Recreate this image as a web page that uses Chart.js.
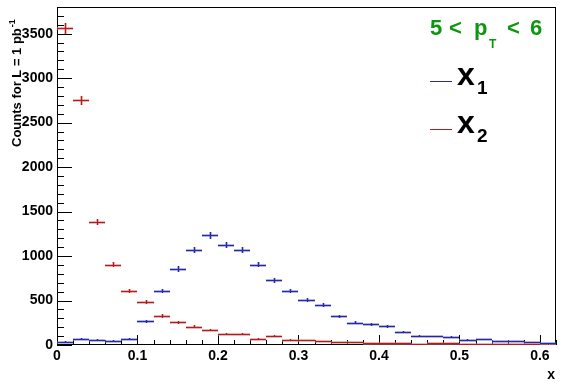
<!DOCTYPE html>
<html><head><meta charset="utf-8">
<script src="https://cdn.jsdelivr.net/npm/chart.js@4.4.0/dist/chart.umd.min.js"></script>
<style>html,body{margin:0;padding:0;background:#fff;}canvas{display:block;}</style>
</head><body>
<canvas id="c" width="567" height="384"></canvas>
<script>
// ---- data ----
const binWidth = 0.02;
const binCenters = [0.01,0.03,0.05,0.07,0.09,0.11,0.13,0.15,0.17,0.19,0.21,0.23,0.25,0.27,0.29,0.31,0.33,0.35,0.37,0.39,0.41,0.43,0.45,0.47,0.49,0.51,0.53,0.55,0.57,0.59,0.61];
const x1Values = [38,66,55,48,66,268,604,855,1065,1232,1126,1072,902,729,604,503,448,323,252,234,210,150,104,96,88,55,65,43,42,32,18];
const x1Errors = [6,8,7,7,8,16,25,29,33,35,34,33,30,27,25,22,21,18,16,15,14,12,10,10,9,7,8,7,6,6,4];
const x2Values = [3560,2750,1385,905,605,480,325,255,206,165,124,120,73,105,56,51,43,30,30,18,20,18,11,22,22,11,11,9,8,7,5];
const x2Errors = [60,52,37,30,25,22,18,16,14,13,11,11,9,10,7,7,7,5,5,4,4,4,3,5,5,3,3,3,3,3,2];
const xTickValues = [0,0.1,0.2,0.3,0.4,0.5,0.6];
const xTickLabels = ['0','0.1','0.2','0.3','0.4','0.5','0.6'];
const yTickValues = [0,500,1000,1500,2000,2500,3000,3500];
const yTickLabels = ['0','500','1000','1500','2000','2500','3000','3500'];
const seriesNames = ['x','x'];
const seriesSubs = ['1','2'];

const FONT = '"Liberation Sans", Arial, Helvetica, sans-serif';

function pts(vals, errs){ return binCenters.map((c,i)=>({x:c, y:vals[i], err:errs[i]})); }

const framePlugin = {
  id:'frame',
  beforeDatasetsDraw(chart){
    const ctx = chart.ctx, a = chart.chartArea, xs = chart.scales.x, ys = chart.scales.y;
    ctx.save();
    ctx.strokeStyle = '#000'; ctx.lineWidth = 1;
    ctx.strokeRect(Math.round(a.left)+0.5, Math.round(a.top)+0.5, Math.round(a.right-a.left)-1, Math.round(a.bottom-a.top)-1);
    ctx.beginPath();
    for (let v = 0; v <= ys.max; v += 100) {
      const y = Math.round(ys.getPixelForValue(v)) + 0.5;
      const len = (v % 500 === 0) ? 15 : 7;
      ctx.moveTo(a.left, y); ctx.lineTo(a.left + len, y);
    }
    for (let k = 0; k <= 31; k++) {
      const v = k * 0.02;
      const x = Math.round(xs.getPixelForValue(v)) + 0.5;
      const len = (k % 5 === 0) ? 10 : 5;
      ctx.moveTo(x, a.bottom); ctx.lineTo(x, a.bottom - len);
    }
    ctx.stroke();
    ctx.restore();
  }
};

const histPlugin = {
  id:'hist',
  afterDatasetsDraw(chart){
    const ctx = chart.ctx, xs = chart.scales.x, ys = chart.scales.y, a = chart.chartArea;
    ctx.save();
    ctx.beginPath(); ctx.rect(a.left, a.top, a.right-a.left, a.bottom-a.top); ctx.clip();
    chart.data.datasets.forEach(ds=>{
      ds.data.forEach(p=>{
        const xl = Math.round(xs.getPixelForValue(p.x - binWidth/2));
        const xr = Math.round(xs.getPixelForValue(p.x + binWidth/2));
        const xc = Math.round(xs.getPixelForValue(p.x));
        const yc = Math.round(ys.getPixelForValue(p.y));
        const yt = Math.round(ys.getPixelForValue(p.y + p.err));
        const yb = Math.round(ys.getPixelForValue(p.y - p.err));
        ctx.fillStyle = ds.haloColor;
        ctx.fillRect(xl, yc-1, xr-xl, 3);
        ctx.fillRect(xc-1, yt, 3, Math.max(yb-yt,1));
        ctx.fillStyle = ds.borderColor;
        ctx.fillRect(xl, yc, xr-xl, 1);
        ctx.fillRect(xc, yt, 1, Math.max(yb-yt,1));
      });
    });
    ctx.restore();
  },
  afterDraw(chart){
    const ctx = chart.ctx;
    ctx.save();
    ctx.fillStyle = '#000';
    // y title
    ctx.save();
    ctx.translate(21, 147);
    ctx.rotate(-Math.PI/2);
    ctx.font = 'bold 13px ' + FONT;
    ctx.textAlign = 'left'; ctx.textBaseline = 'alphabetic';
    const main = 'Counts for L = 1 pb';
    ctx.fillText(main, 0, 0);
    const w = ctx.measureText(main).width;
    ctx.font = 'bold 9px ' + FONT;
    ctx.fillText('-1', w + 1, -6);
    ctx.restore();
    // x title
    ctx.font = 'bold 14px ' + FONT;
    ctx.textAlign = 'right'; ctx.textBaseline = 'alphabetic';
    ctx.fillText('x', 555, 379);
    // range text: 5 < p_T < 6
    ctx.fillStyle = 'rgb(15,150,15)';
    ctx.textAlign = 'left';
    ctx.font = 'bold 22px ' + FONT;
    ctx.fillText('5', 430, 35);
    ctx.fillText('<', 449, 35);
    ctx.fillText('p', 474, 35);
    ctx.fillText('<', 507, 35);
    ctx.fillText('6', 530, 35);
    ctx.font = 'bold 12px ' + FONT;
    ctx.fillText('T', 489, 48);
    // legend entries
    const rows = [81, 129];
    chart.data.datasets.forEach((ds,i)=>{
      const y = rows[i];
      ctx.fillStyle = ds.borderColor;
      ctx.fillRect(430, y, 22, 1);
      ctx.fillStyle = '#000';
      ctx.font = 'bold 32px ' + FONT;
      ctx.fillText(seriesNames[i], 457, y + 4);
      ctx.font = 'bold 19px ' + FONT;
      ctx.fillText(seriesSubs[i], 477, y + 13);
    });
    ctx.restore();
  }
};

new Chart(document.getElementById('c'), {
  type:'scatter',
  data:{
    datasets:[
      {label:'x1', data:pts(x1Values, x1Errors), borderColor:'rgb(40,40,160)', haloColor:'rgba(120,120,210,0.55)', backgroundColor:'rgb(40,40,160)', pointRadius:0, showLine:false},
      {label:'x2', data:pts(x2Values, x2Errors), borderColor:'rgb(175,30,30)', haloColor:'rgba(215,120,120,0.55)', backgroundColor:'rgb(175,30,30)', pointRadius:0, showLine:false}
    ]
  },
  options:{
    responsive:false, animation:false, devicePixelRatio:1,
    layout:{padding:{left:0, top:7, right:11, bottom:0}},
    plugins:{legend:{display:false}, tooltip:{enabled:false}},
    scales:{
      x:{
        type:'linear', min:0, max:0.62,
        grid:{display:false, drawTicks:false}, border:{display:false},
        afterBuildTicks:s=>{ s.ticks = xTickValues.map(v=>({value:v})); },
        afterFit:s=>{ s.height = 39; s.paddingLeft = 0; s.paddingRight = 0; },
        ticks:{padding:3, color:'#000', maxRotation:0, autoSkip:false, font:{family:FONT, size:14, weight:'bold'},
          callback:(v,i)=>xTickLabels[i]}
      },
      y:{
        type:'linear', min:0, max:3800,
        grid:{display:false, drawTicks:false}, border:{display:false},
        afterBuildTicks:s=>{ s.ticks = yTickValues.map(v=>({value:v})); },
        afterFit:s=>{ s.width = 57; s.paddingTop = 0; s.paddingBottom = 0; },
        ticks:{padding:4, color:'#000', autoSkip:false, font:{family:FONT, size:14, weight:'bold'},
          callback:(v,i)=>yTickLabels[i]}
      }
    }
  },
  plugins:[framePlugin, histPlugin]
});
</script>
</body></html>
